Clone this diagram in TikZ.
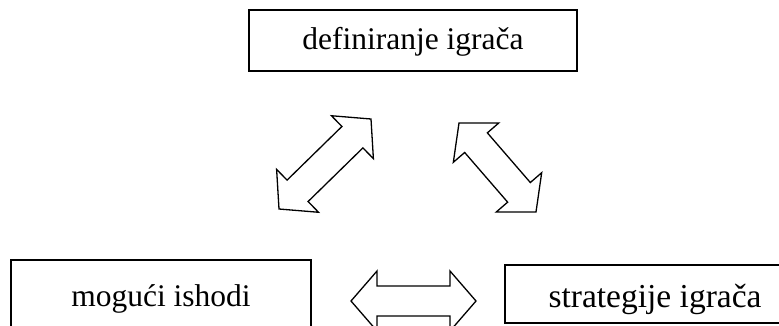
\documentclass[tikz,border=0pt]{standalone}
\usepackage{fontspec}
\setmainfont{Liberation Serif}
\usetikzlibrary{calc}
\tikzset{
  box/.style={draw=black, line width=1.3pt, rectangle, inner sep=0pt,
    font=\fontsize{31.5}{36}\selectfont},
  arrowshape/.style={draw=black, line width=1.3pt, line join=miter, fill=white}
}
\newcommand\dblockarrow[2]{%
  \path ($(#1)!26pt!(#2)$) coordinate (h1) ($(#2)!26pt!(#1)$) coordinate (h2);
  \draw[arrowshape] (#1) -- ($(h1)!30pt!90:(#2)$) -- ($(h1)!15pt!90:(#2)$)
    -- ($(h2)!15pt!-90:(#1)$) -- ($(h2)!30pt!-90:(#1)$) -- (#2)
    -- ($(h2)!30pt!90:(#1)$) -- ($(h2)!15pt!90:(#1)$)
    -- ($(h1)!15pt!-90:(#2)$) -- ($(h1)!30pt!-90:(#2)$) -- cycle;}
\begin{document}
\begin{tikzpicture}[x=1pt, y=-1pt]
  \useasboundingbox (0,0) rectangle (779,325);
  \clip (0,0) rectangle (779,325);
  \fill[white] (0,0) rectangle (779,325);
  % boxes
  \node[box, minimum width=328pt, minimum height=61pt, text height=22pt, text depth=5pt]
    (def) at (413,40.5) {definiranje igrača};
  \node[box, minimum width=300pt, minimum height=76pt, text height=22pt, text depth=6pt]
    (ish) at (161,298) {mogući ishodi};
  \node[box, minimum width=300pt, minimum height=58pt, text height=30pt, text depth=4pt,
    font=\fontsize{33.5}{38}\selectfont]
    (str) at (655,294) {strategije igrača};
  % block arrows
  \coordinate (l1) at (279,209); \coordinate (l2) at (371,119);
  \coordinate (r1) at (459,123); \coordinate (r2) at (536,212);
  \coordinate (b1) at (351,301); \coordinate (b2) at (476,301);
  \dblockarrow{l1}{l2}
  \dblockarrow{r1}{r2}
  \dblockarrow{b1}{b2}
\end{tikzpicture}
\end{document}
